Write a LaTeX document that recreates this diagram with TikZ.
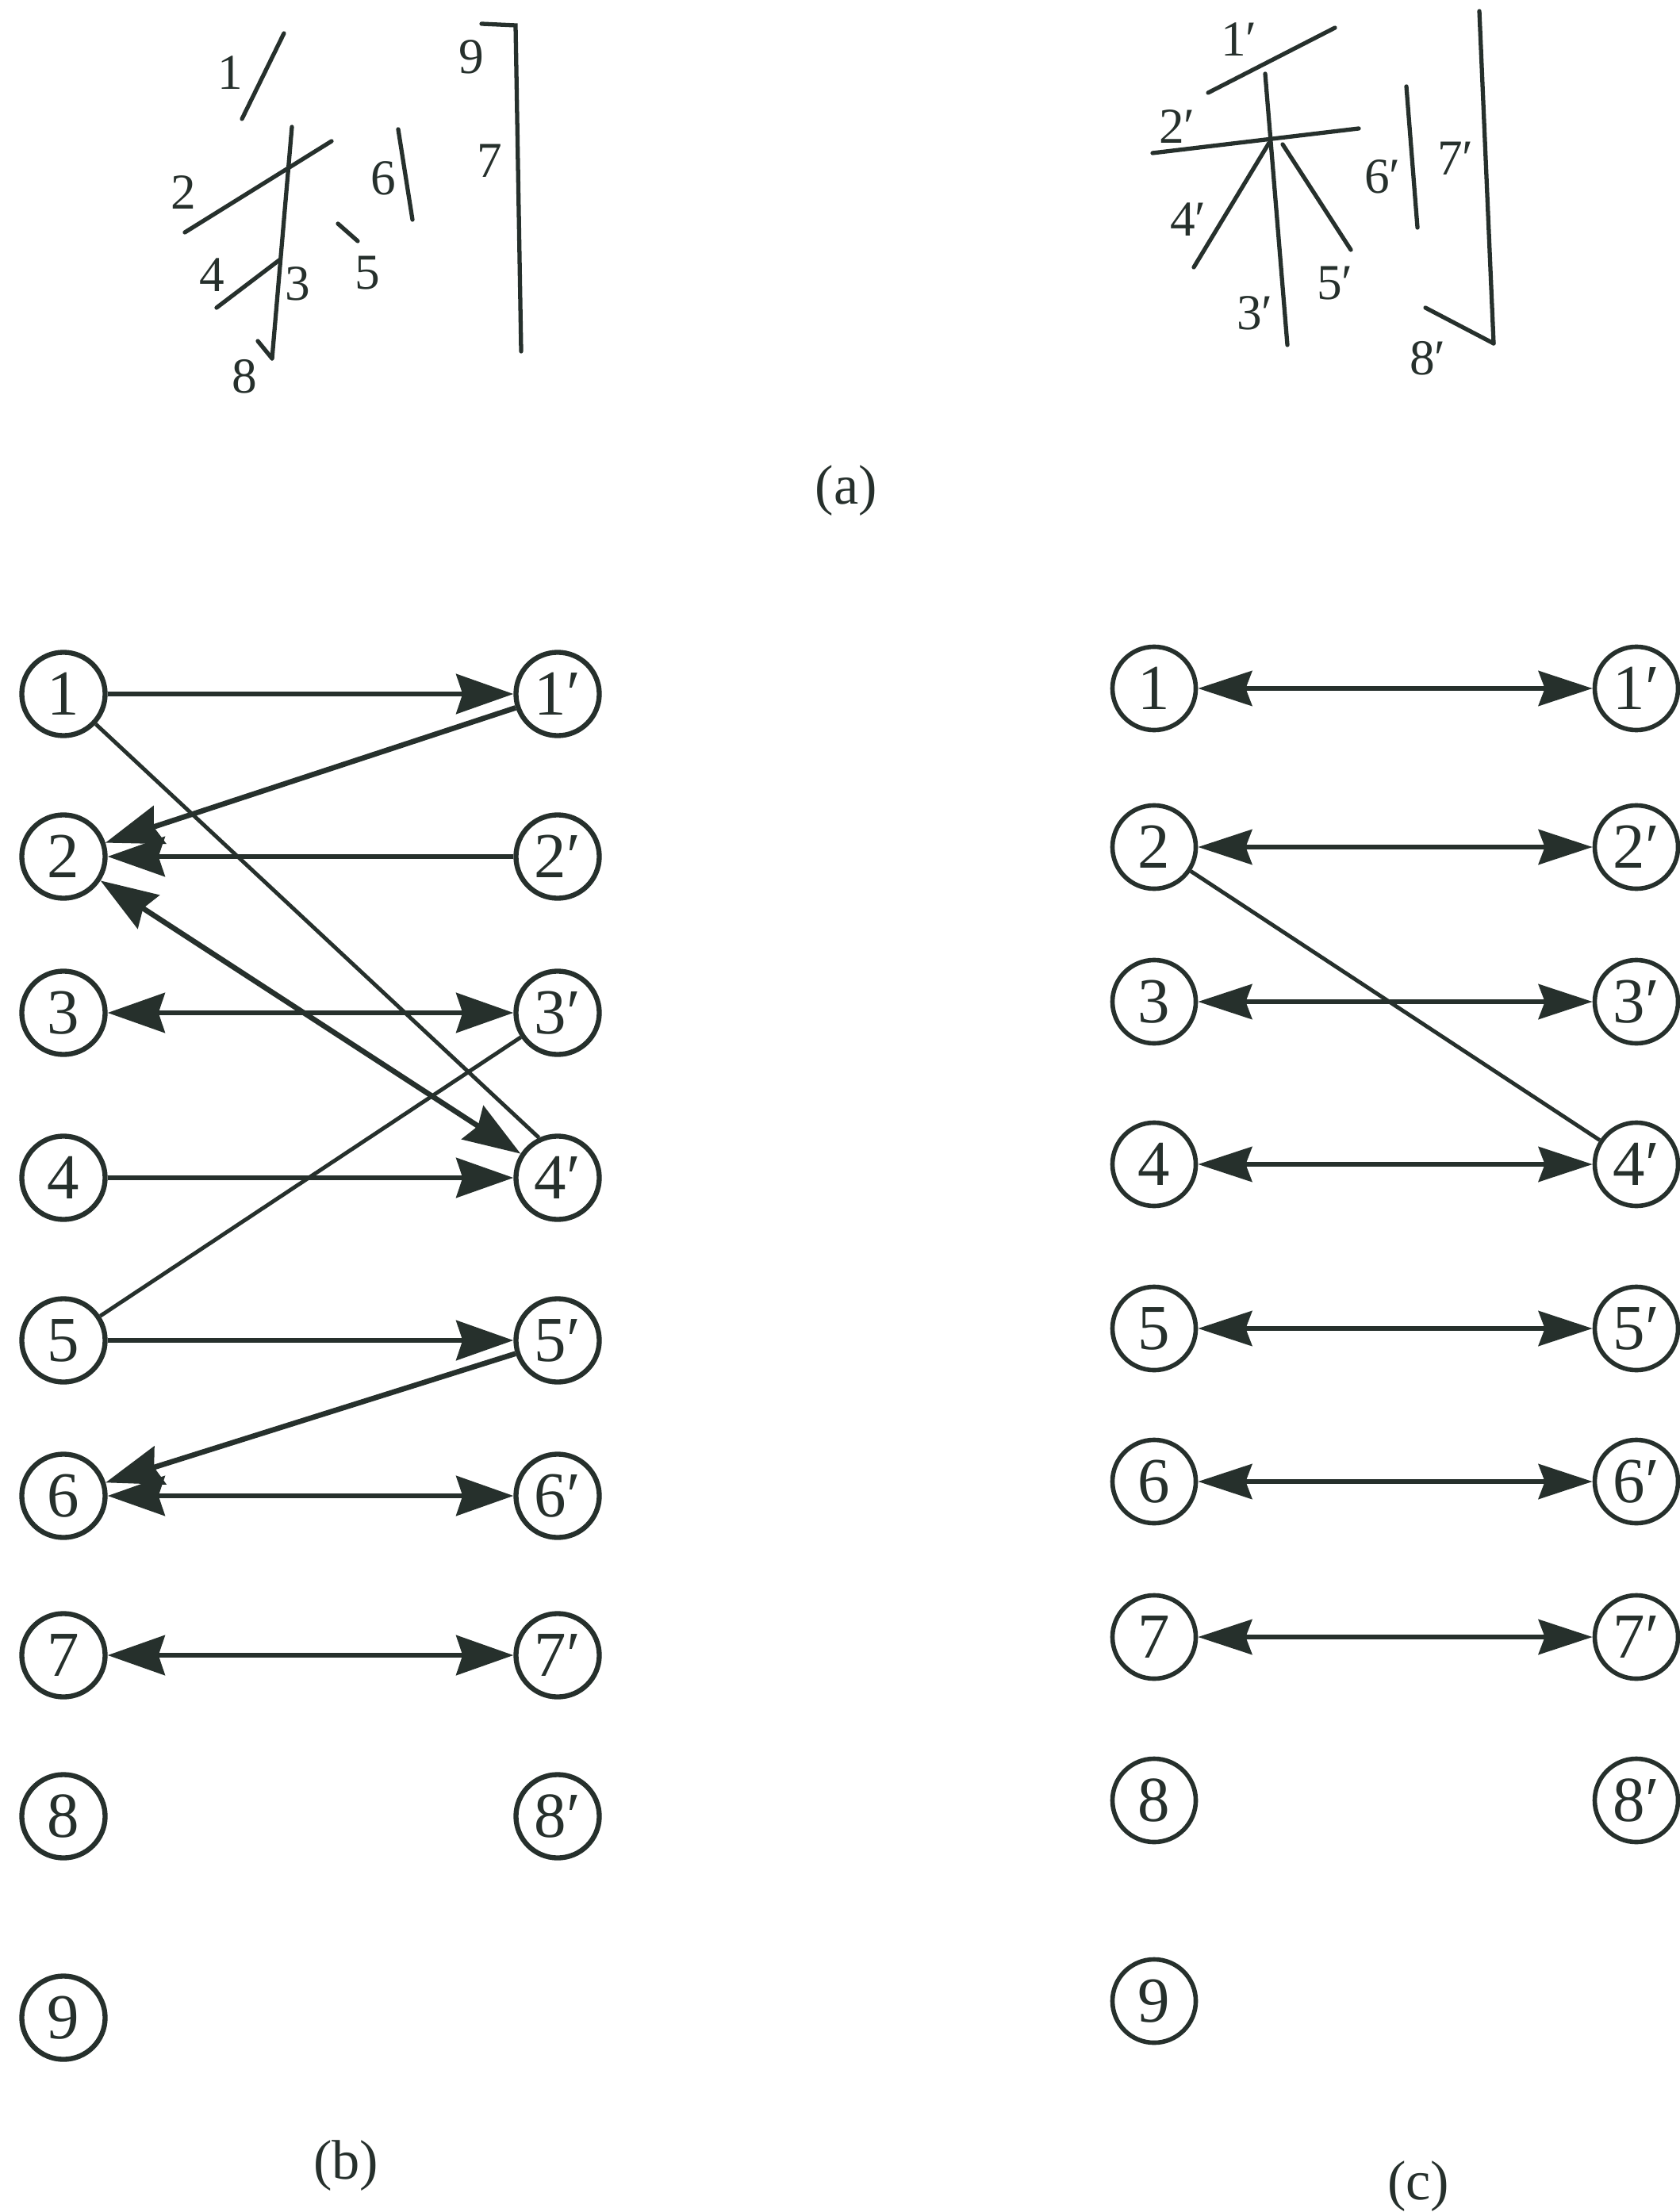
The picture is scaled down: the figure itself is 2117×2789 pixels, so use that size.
\documentclass[tikz,border=0pt]{standalone}
\usepackage{fontspec}
\setmainfont{Liberation Serif}
\usetikzlibrary{arrows.meta}
\definecolor{ink}{RGB}{38,48,44}
\begin{document}
\begin{tikzpicture}[x=0.01cm,y=-0.01cm,
  segline/.style={draw=ink, line width=1.5pt, line cap=round},
  seglabel/.style={text=ink, inner sep=0pt, font=\fontsize{18}{20}\selectfont},
  vtx/.style={circle, draw=ink, text=ink, line width=1.8pt, minimum size=1.05cm, inner sep=0pt, font=\fontsize{23}{26}\selectfont},
  vtxc/.style={vtx, line width=1.6pt},
  tipb/.tip={Stealth[length=0.72cm,width=0.5cm,inset=0.08cm]},
  tipc/.tip={Stealth[length=0.68cm,width=0.44cm,inset=0.08cm]},
  arrb/.style={draw=ink, line width=1.9pt, -tipb},
  darrb/.style={draw=ink, line width=1.9pt, tipb-tipb},
  darrc/.style={draw=ink, line width=1.7pt, tipc-tipc},
  plainline/.style={draw=ink, line width=1.4pt},
  subcap/.style={text=ink, inner sep=0pt, font=\fontsize{20}{22}\selectfont}
]
\useasboundingbox (0,0) rectangle (2117,2789);

% ---------- panel (a), left character ----------
\coordinate (s1a) at (358,42);  \coordinate (s1b) at (305,150);
\coordinate (s2a) at (233,293); \coordinate (s2b) at (418,178);
\coordinate (s3a) at (368,160); \coordinate (s3b) at (343,452);
\coordinate (s8a) at (325,430);
\coordinate (s4a) at (273,388); \coordinate (s4b) at (352,328);
\coordinate (s5a) at (426,282); \coordinate (s5b) at (451,304);
\coordinate (s6a) at (502,163); \coordinate (s6b) at (520,277);
\coordinate (s9a) at (607,30);  \coordinate (s9b) at (650,32);
\coordinate (s7b) at (657,443);
\draw[segline] (s1a) -- (s1b);
\draw[segline] (s2a) -- (s2b);
\draw[segline] (s3a) -- (s3b);
\draw[segline] (s8a) -- (s3b);
\draw[segline] (s4a) -- (s4b);
\draw[segline] (s5a) -- (s5b);
\draw[segline] (s6a) -- (s6b);
\draw[segline] (s9a) -- (s9b) -- (s7b);
\node[seglabel] (l1) at (290,92) {1};
\node[seglabel] (l2) at (231,243) {2};
\node[seglabel] (l3) at (375,358) {3};
\node[seglabel] (l4) at (267,347) {4};
\node[seglabel] (l5) at (463,344) {5};
\node[seglabel] (l6) at (483,225) {6};
\node[seglabel] (l7) at (617,203) {7};
\node[seglabel] (l8) at (308,475) {8};
\node[seglabel] (l9) at (594,72) {9};

% ---------- panel (a), right character ----------
\coordinate (t1a) at (1523,117); \coordinate (t1b) at (1683,35);
\coordinate (t2a) at (1453,193); \coordinate (t2b) at (1713,162);
\coordinate (t3a) at (1595,93);  \coordinate (t3b) at (1623,435);
\coordinate (t4a) at (1600,180); \coordinate (t4b) at (1505,337);
\coordinate (t5a) at (1617,182); \coordinate (t5b) at (1703,315);
\coordinate (t6a) at (1773,109); \coordinate (t6b) at (1787,287);
\coordinate (t7a) at (1865,14);  \coordinate (t7b) at (1883,433);
\coordinate (t8a) at (1797,388);
\draw[segline] (t1a) -- (t1b);
\draw[segline] (t2a) -- (t2b);
\draw[segline] (t3a) -- (t3b);
\draw[segline] (t4a) -- (t4b);
\draw[segline] (t5a) -- (t5b);
\draw[segline] (t6a) -- (t6b);
\draw[segline] (t7a) -- (t7b);
\draw[segline] (t8a) -- (t7b);
\node[seglabel] (m1) at (1562,50) {1′};
\node[seglabel] (m2) at (1484,160) {2′};
\node[seglabel] (m3) at (1582,395) {3′};
\node[seglabel] (m4) at (1498,277) {4′};
\node[seglabel] (m5) at (1683,357) {5′};
\node[seglabel] (m6) at (1743,223) {6′};
\node[seglabel] (m7) at (1835,200) {7′};
\node[seglabel] (m8) at (1800,452) {8′};

\node[subcap] (capa) at (1067,619) {(a)};

% ---------- panel (b) ----------
\node[vtx] (b1) at (80,875) {1};
\node[vtx] (b2) at (80,1080) {2};
\node[vtx] (b3) at (80,1277) {3};
\node[vtx] (b4) at (80,1485) {4};
\node[vtx] (b5) at (80,1690) {5};
\node[vtx] (b6) at (80,1886) {6};
\node[vtx] (b7) at (80,2087) {7};
\node[vtx] (b8) at (80,2290) {8};
\node[vtx] (b9) at (80,2544) {9};
\node[vtx] (b1p) at (703,875) {1′};
\node[vtx] (b2p) at (703,1080) {2′};
\node[vtx] (b3p) at (703,1277) {3′};
\node[vtx] (b4p) at (703,1485) {4′};
\node[vtx] (b5p) at (703,1690) {5′};
\node[vtx] (b6p) at (703,1886) {6′};
\node[vtx] (b7p) at (703,2087) {7′};
\node[vtx] (b8p) at (703,2290) {8′};

\draw[arrb] (b1) -- (b1p);
\draw[arrb] (b1p) -- (b2);
\draw[arrb] (b2p) -- (b2);
\draw[darrb] (b2) -- (b4p);
\draw[plainline] (b1) -- (b4p.115);
\draw[darrb] (b3) -- (b3p);
\draw[plainline] (b5) -- (b3p);
\draw[arrb] (b4) -- (b4p);
\draw[arrb] (b5) -- (b5p);
\draw[arrb] (b5p) -- (b6);
\draw[darrb] (b6) -- (b6p);
\draw[darrb] (b7) -- (b7p);

\node[subcap] (capb) at (436,2731) {(b)};

% ---------- panel (c) ----------
\node[vtxc] (c1) at (1455,868) {1};
\node[vtxc] (c2) at (1455,1068) {2};
\node[vtxc] (c3) at (1455,1263) {3};
\node[vtxc] (c4) at (1455,1468) {4};
\node[vtxc] (c5) at (1455,1675) {5};
\node[vtxc] (c6) at (1455,1868) {6};
\node[vtxc] (c7) at (1455,2064) {7};
\node[vtxc] (c8) at (1455,2270) {8};
\node[vtxc] (c9) at (1455,2523) {9};
\node[vtxc] (c1p) at (2063,868) {1′};
\node[vtxc] (c2p) at (2063,1068) {2′};
\node[vtxc] (c3p) at (2063,1263) {3′};
\node[vtxc] (c4p) at (2063,1468) {4′};
\node[vtxc] (c5p) at (2063,1675) {5′};
\node[vtxc] (c6p) at (2063,1868) {6′};
\node[vtxc] (c7p) at (2063,2064) {7′};
\node[vtxc] (c8p) at (2063,2270) {8′};

\draw[darrc] (c1) -- (c1p);
\draw[darrc] (c2) -- (c2p);
\draw[darrc] (c3) -- (c3p);
\draw[darrc] (c4) -- (c4p);
\draw[darrc] (c5) -- (c5p);
\draw[darrc] (c6) -- (c6p);
\draw[darrc] (c7) -- (c7p);
\draw[plainline] (c2) -- (c4p);

\node[subcap] (capc) at (1788,2757) {(c)};
\end{tikzpicture}
\end{document}
